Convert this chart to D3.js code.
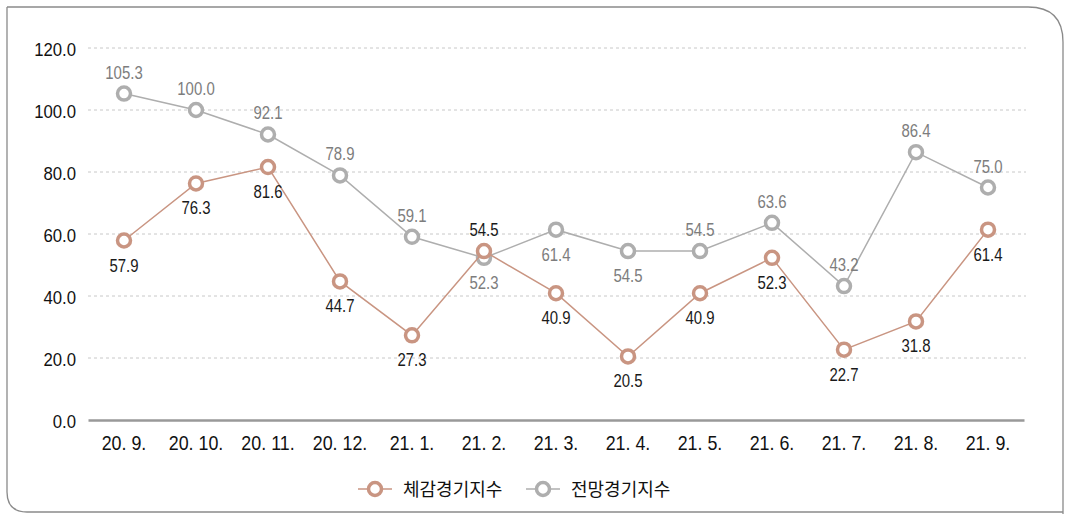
<!DOCTYPE html>
<html><head><meta charset="utf-8">
<script src="https://cdn.jsdelivr.net/npm/d3@7"></script>
<style>
body{margin:0;background:#fff;}
svg{display:block;}
.num{font-family:"Liberation Sans",Arial,sans-serif;}
</style></head>
<body>
<svg id="c" width="1067" height="514"></svg>
<script>
const categories = ["20. 9.","20. 10.","20. 11.","20. 12.","21. 1.","21. 2.","21. 3.","21. 4.","21. 5.","21. 6.","21. 7.","21. 8.","21. 9."];
const actualValues = [57.9,76.3,81.6,44.7,27.3,54.5,40.9,20.5,40.9,52.3,22.7,31.8,61.4];
const outlookValues = [105.3,100.0,92.1,78.9,59.1,52.3,61.4,54.5,54.5,63.6,43.2,86.4,75.0];
const yTicks = [0,20,40,60,80,100,120];
const seriesNames = ["체감경기지수","전망경기지수"];
// label position: 1 above, -1 below
const actualLabelPos = [-1,-1,-1,-1,-1,1,-1,-1,-1,-1,-1,-1,-1];
const outlookLabelPos = [1,1,1,1,1,-1,-1,-1,1,1,1,1,1];

const svg = d3.select("#c");
const colA = "#C99582", colB = "#AEAEAE";

function condense(sel, f){
  sel.each(function(){
    const w = this.getComputedTextLength();
    d3.select(this).attr("textLength", w*f).attr("lengthAdjust","spacingAndGlyphs");
  });
}

// frame
svg.append("path")
  .attr("d","M7,7 H1028 Q1063,7 1063,42 V520 M7,7 V492 Q7,512 27,512 H1063")
  .attr("fill","none").attr("stroke","#8a8a8a").attr("stroke-width",1.3);

const x = d3.scaleBand().domain(categories).range([88,1024]);
const y = d3.scaleLinear().domain([0,120]).range([420,48]);

// grid
svg.append("g").selectAll("line").data(yTicks.filter(d=>d>0)).join("line")
  .attr("x1",88).attr("x2",1026).attr("y1",d=>y(d)).attr("y2",d=>y(d))
  .attr("stroke","#c8c8c8").attr("stroke-dasharray","3,3").attr("stroke-width",1);

// y axis labels
const yAxis = d3.axisLeft(y).tickValues(yTicks).tickFormat(d3.format(".1f")).tickSize(0).tickPadding(12);
const gy = svg.append("g").attr("transform","translate(88,0)").call(yAxis);
gy.select(".domain").remove();
gy.selectAll("text").attr("class","num").attr("font-size",19).attr("fill","#111").attr("font-family",null).attr("dy","0.4em");
condense(gy.selectAll("text"),0.88);

// x axis
const xAxis = d3.axisBottom(x).tickSize(0).tickPadding(15);
const gx = svg.append("g").attr("transform","translate(0,420)").call(xAxis);
gx.select(".domain").attr("stroke","#999").attr("stroke-width",2.5);
gx.selectAll("text").attr("class","num").attr("font-size",21).attr("fill","#111").attr("dy","0.71em").attr("font-family",null);
condense(gx.selectAll("text"),0.85);

const cx = d => x(d) + x.bandwidth()/2;
const line = d3.line().x((d,i)=>cx(categories[i])).y(d=>y(d));

function series(vals, col, pos, txtCol){
  svg.append("path").datum(vals).attr("d",line).attr("fill","none").attr("stroke",col).attr("stroke-width",1.5);
  svg.append("g").selectAll("circle").data(vals).join("circle")
    .attr("cx",(d,i)=>cx(categories[i])).attr("cy",d=>y(d)).attr("r",6.5)
    .attr("fill","#fff").attr("stroke",col).attr("stroke-width",3.5);
  const t = svg.append("g").selectAll("text").data(vals).join("text")
    .attr("class","num").attr("font-size",18).attr("fill",txtCol).attr("text-anchor","middle")
    .attr("x",(d,i)=>cx(categories[i]))
    .attr("y",(d,i)=>y(d) + (pos[i]>0 ? -15 : 31))
    .text(d=>d.toFixed(1));
  condense(t,0.83);
}
series(outlookValues, colB, outlookLabelPos, "#7d7d7d");
series(actualValues, colA, actualLabelPos, "#1a1a1a");

// legend
const leg = [{n:seriesNames[0],c:colA,x:375},{n:seriesNames[1],c:colB,x:543}];
const lg = svg.append("g").selectAll("g").data(leg).join("g").attr("transform",d=>`translate(${d.x},489)`);
lg.append("line").attr("x1",-17).attr("x2",17).attr("stroke",d=>d.c).attr("stroke-width",1.5);
lg.append("circle").attr("r",6.5).attr("fill","#fff").attr("stroke",d=>d.c).attr("stroke-width",3.5);
lg.append("text").attr("x",28).attr("y",7).attr("font-family","'Noto Sans CJK KR',sans-serif")
  .attr("font-size",18).attr("fill","#111").text(d=>d.n);
</script>
</body></html>
